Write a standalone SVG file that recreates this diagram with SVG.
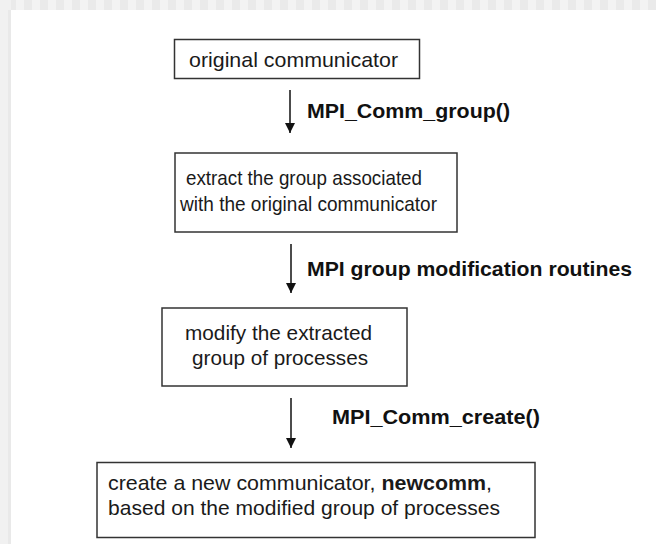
<svg xmlns="http://www.w3.org/2000/svg" width="656" height="544" viewBox="0 0 656 544">
<defs>
<pattern id="chk" x="0" y="0" width="16" height="10" patternUnits="userSpaceOnUse">
<rect x="0" y="0" width="8" height="10" fill="#f3f3f3"/>
<rect x="8" y="0" width="8" height="10" fill="#eaeaea"/>
</pattern>
<marker id="ah" viewBox="0 0 10 10" refX="10" refY="5" markerWidth="10" markerHeight="10" markerUnits="userSpaceOnUse" orient="auto">
<path d="M0,0 L10,5 L0,10 z" fill="#111"/>
</marker>
<style>
.box{fill:#fff;stroke:#333;stroke-width:1.5}
.t{font-family:"Liberation Sans",Arial,sans-serif;font-size:21px;fill:#1a1a1a}
.lbl{font-family:"Liberation Sans",Arial,sans-serif;font-size:21px;font-weight:bold;fill:#111}
.conn{stroke:#111;stroke-width:1.5;fill:none}
</style>
</defs>
<rect width="656" height="544" fill="#fff"/>
<rect x="0" y="0" width="656" height="10" fill="url(#chk)"/>
<rect x="0" y="0" width="11" height="544" fill="#f1f1f1"/>
<rect x="8" y="10" width="3" height="534" fill="#e9e9e9"/>

<g id="connectors">
<line class="conn" x1="290" y1="90" x2="290" y2="133" marker-end="url(#ah)"/>
<line class="conn" x1="291" y1="244" x2="291" y2="293" marker-end="url(#ah)"/>
<line class="conn" x1="291" y1="398" x2="291" y2="448" marker-end="url(#ah)"/>
<text class="lbl" x="307" y="118" textLength="203" lengthAdjust="spacingAndGlyphs">MPI_Comm_group()</text>
<text class="lbl" x="307" y="276" textLength="325" lengthAdjust="spacingAndGlyphs">MPI group modification routines</text>
<text class="lbl" x="332" y="424" textLength="208" lengthAdjust="spacingAndGlyphs">MPI_Comm_create()</text>
</g>

<g id="node1">
<rect class="box" x="174.5" y="39.5" width="245" height="39"/>
<text class="t" x="189" y="67" textLength="209" lengthAdjust="spacingAndGlyphs">original communicator</text>
</g>
<g id="node2">
<rect class="box" x="175" y="153" width="282" height="79"/>
<text class="t" x="186" y="185" textLength="236" lengthAdjust="spacingAndGlyphs">extract the group associated</text>
<text class="t" x="180" y="211" textLength="257" lengthAdjust="spacingAndGlyphs">with the original communicator</text>
</g>
<g id="node3">
<rect class="box" x="162" y="308" width="245" height="78"/>
<text class="t" x="185" y="340" textLength="187" lengthAdjust="spacingAndGlyphs">modify the extracted</text>
<text class="t" x="192" y="365" textLength="176" lengthAdjust="spacingAndGlyphs">group of processes</text>
</g>
<g id="node4">
<rect class="box" x="97" y="462.5" width="438" height="75"/>
<text class="t" x="108" y="490" textLength="384" lengthAdjust="spacingAndGlyphs">create a new communicator, <tspan font-weight="bold">newcomm</tspan>,</text>
<text class="t" x="108" y="515" textLength="392" lengthAdjust="spacingAndGlyphs">based on the modified group of processes</text>
</g>
</svg>
